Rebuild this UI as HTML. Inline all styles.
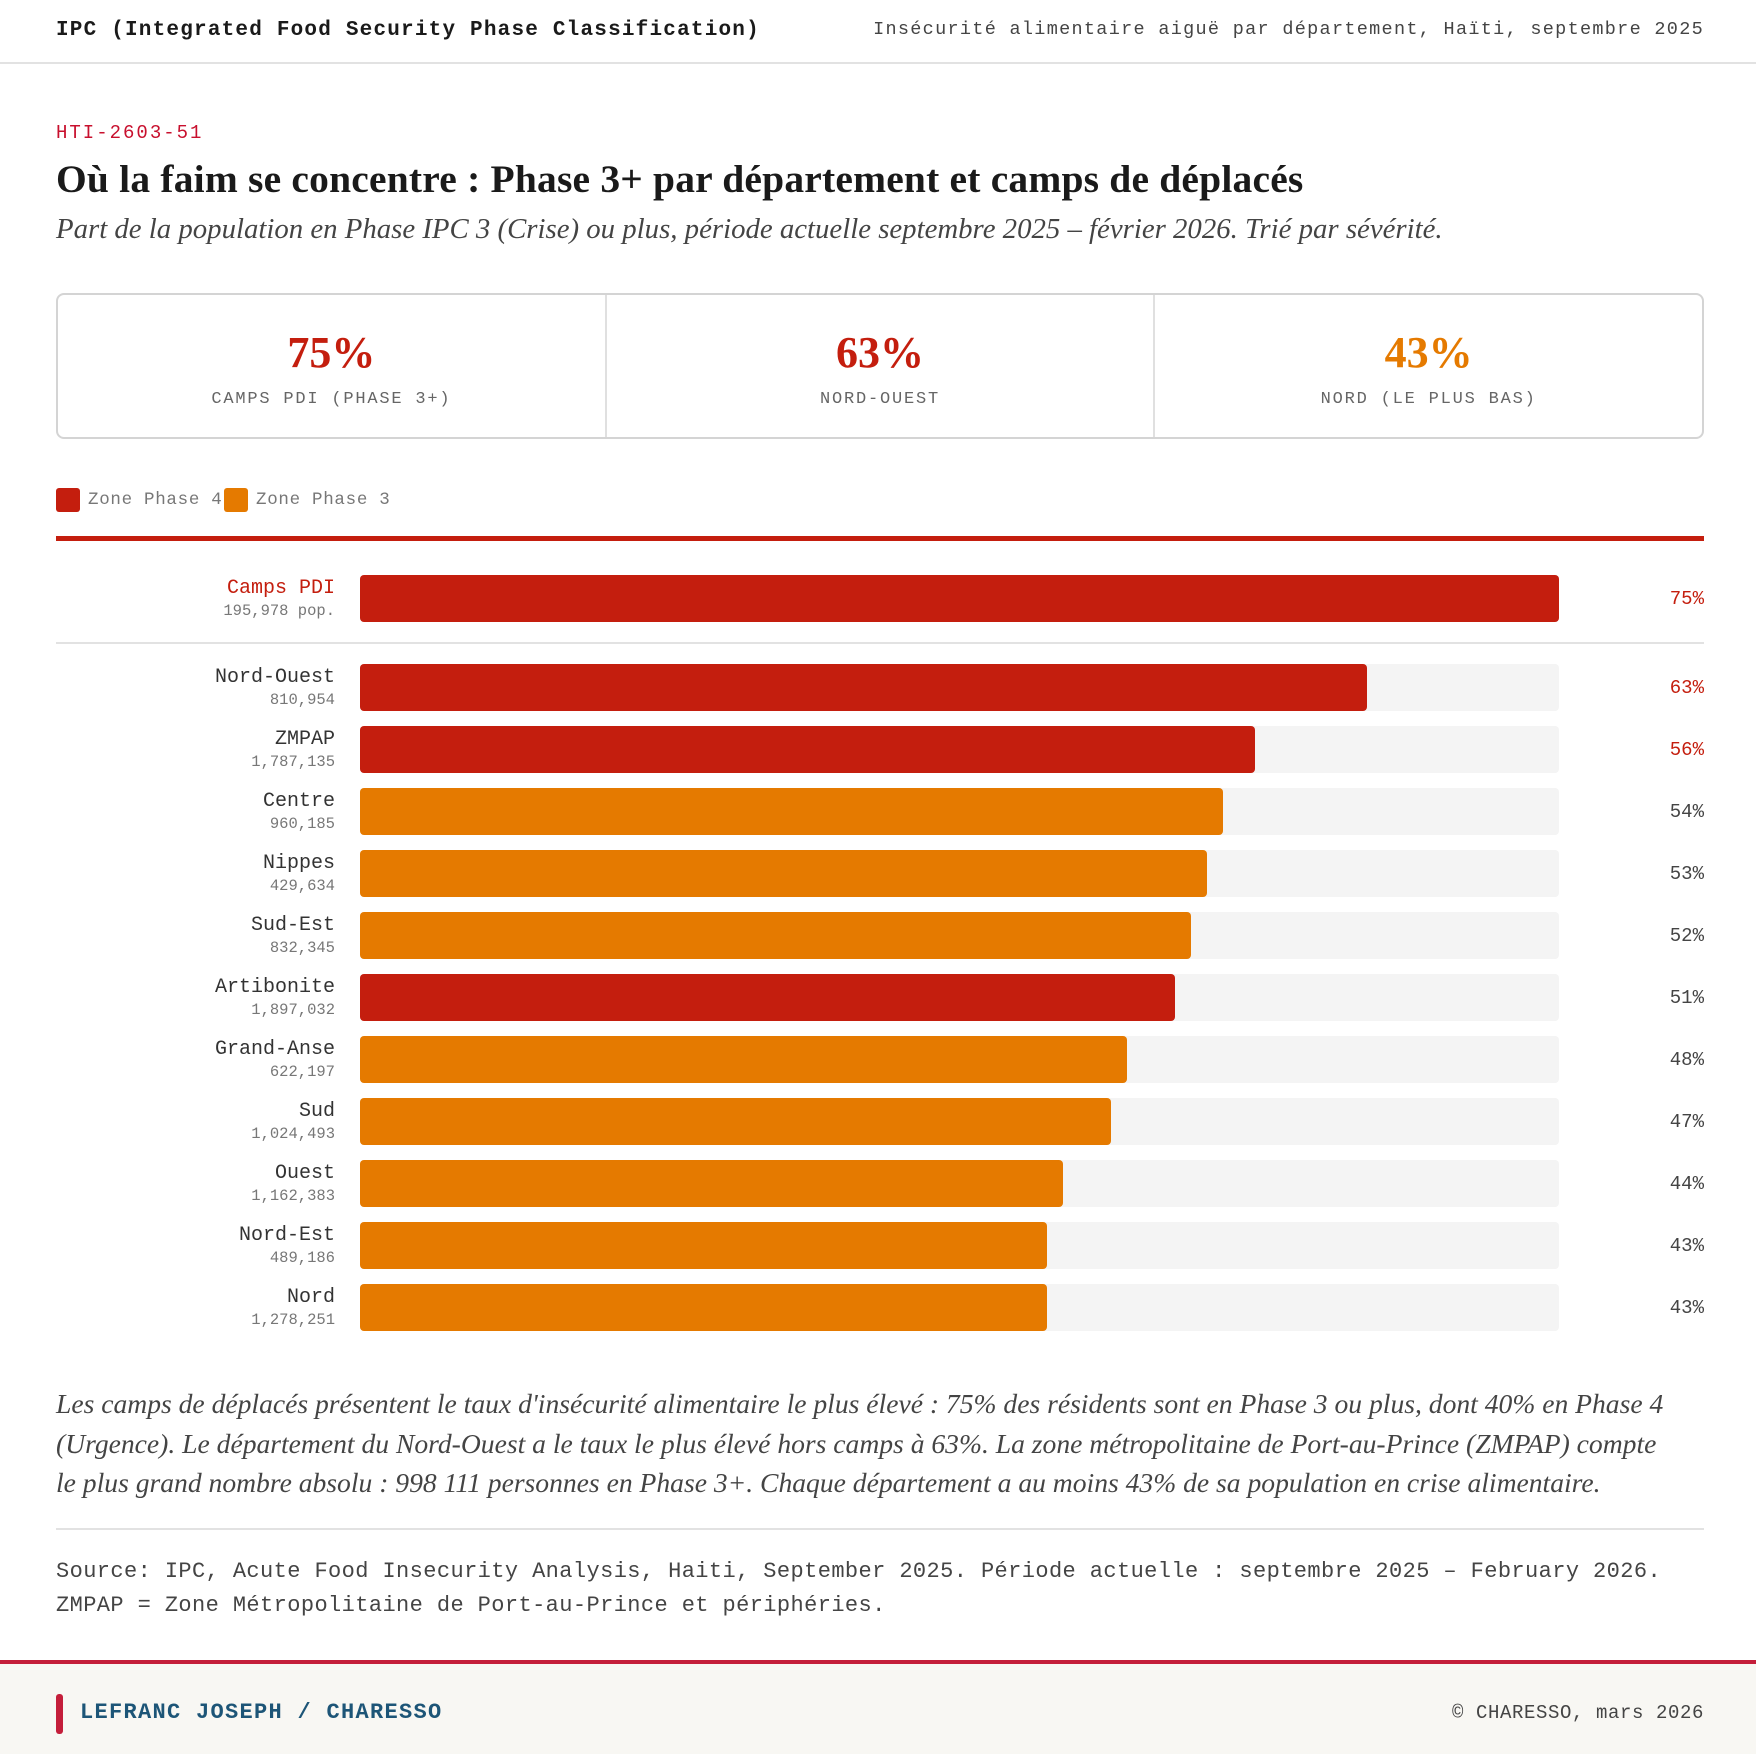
<!DOCTYPE html>
<html><head><meta charset="utf-8">
<style>
*{margin:0;padding:0;box-sizing:border-box}
body{width:1756px;height:1754px;background:#fff;position:relative;overflow:hidden;font-family:"Liberation Mono","DejaVu Sans Mono",monospace;color:#222}
.abs{position:absolute;white-space:nowrap}
.mono{font-family:"Liberation Mono","DejaVu Sans Mono",monospace}
.serif{font-family:"Liberation Serif","DejaVu Serif",serif}
</style></head><body>
<div class="abs mono" style="left:56px;top:19px;font-size:21px;font-weight:bold;letter-spacing:1.2px;color:#1a1a1a">IPC (Integrated Food Security Phase Classification)</div>
<div class="abs mono" style="right:52px;top:19px;font-size:18.5px;letter-spacing:1.3px;color:#444">Insécurité alimentaire aiguë par département, Haïti, septembre 2025</div>
<div class="abs" style="left:0;top:62px;width:1756px;height:2px;background:#e2e2e2"></div>

<div class="abs mono" style="left:56px;top:122px;font-size:19px;letter-spacing:2px;color:#c8102e">HTI-2603-51</div>
<div class="abs serif" style="left:56px;top:156px;font-size:39.5px;font-weight:bold;color:#1a1a1a;letter-spacing:0.2px">Où la faim se concentre : Phase 3+ par département et camps de déplacés</div>
<div class="abs serif" style="left:56px;top:213px;font-size:28.8px;font-style:italic;color:#444">Part de la population en Phase IPC 3 (Crise) ou plus, période actuelle septembre 2025 – février 2026. Trié par sévérité.</div>

<div class="abs" style="left:56px;top:293px;width:1648px;height:146px;border:2px solid #d4d4d4;border-radius:8px;display:flex">
  <div style="flex:1;border-right:2px solid #e0e0e0;text-align:center;padding-top:33px">
    <div class="serif" style="font-size:44px;font-weight:bold;color:#c41e0e;line-height:50px">75%</div>
    <div class="mono" style="font-size:17px;letter-spacing:1.8px;color:#666;margin-top:12px">CAMPS PDI (PHASE 3+)</div>
  </div>
  <div style="flex:1;border-right:2px solid #e0e0e0;text-align:center;padding-top:33px">
    <div class="serif" style="font-size:44px;font-weight:bold;color:#c41e0e;line-height:50px">63%</div>
    <div class="mono" style="font-size:17px;letter-spacing:1.8px;color:#666;margin-top:12px">NORD-OUEST</div>
  </div>
  <div style="flex:1;text-align:center;padding-top:33px">
    <div class="serif" style="font-size:44px;font-weight:bold;color:#e57a00;line-height:50px">43%</div>
    <div class="mono" style="font-size:17px;letter-spacing:1.8px;color:#666;margin-top:12px">NORD (LE PLUS BAS)</div>
  </div>
</div>

<div class="abs" style="left:56px;top:488px;display:flex;align-items:center">
  <span style="display:inline-block;width:24px;height:24px;background:#c41e0e;border-radius:3px"></span>
  <span class="mono" style="font-size:17.5px;letter-spacing:0.7px;color:#777;margin-left:8px">Zone Phase 4</span>
</div>
<div class="abs" style="left:224px;top:488px;display:flex;align-items:center">
  <span style="display:inline-block;width:24px;height:24px;background:#e57a00;border-radius:3px"></span>
  <span class="mono" style="font-size:17.5px;letter-spacing:0.7px;color:#777;margin-left:8px">Zone Phase 3</span>
</div>
<div class="abs" style="left:56px;top:536px;width:1648px;height:5px;background:#c41e0e"></div>

<div id="chart"></div>

<div class="abs serif" style="left:56px;top:1384px;width:1615px;white-space:normal;font-size:27.6px;font-style:italic;line-height:39.5px;color:#444">Les camps de déplacés présentent le taux d'insécurité alimentaire le plus élevé : 75% des résidents sont en Phase 3 ou plus, dont 40% en Phase 4 (Urgence). Le département du Nord-Ouest a le taux le plus élevé hors camps à 63%. La zone métropolitaine de Port-au-Prince (ZMPAP) compte le plus grand nombre absolu : 998 111 personnes en Phase 3+. Chaque département a au moins 43% de sa population en crise alimentaire.</div>
<div class="abs" style="left:56px;top:1528px;width:1648px;height:2px;background:#e2e2e2"></div>
<div class="abs mono" style="left:56px;top:1555px;font-size:22px;letter-spacing:0.4px;line-height:34px;color:#444">Source: IPC, Acute Food Insecurity Analysis, Haiti, September 2025. Période actuelle : septembre 2025 – February 2026.<br>ZMPAP = Zone Métropolitaine de Port-au-Prince et périphéries.</div>

<div class="abs" style="left:0;top:1660px;width:1756px;height:94px;background:#f8f7f3;border-top:4px solid #c41e3a">
  <div class="abs" style="left:56px;top:30px;width:7px;height:40px;background:#c41e3a;border-radius:3px"></div>
  <div class="abs mono" style="left:80px;top:36px;font-size:22px;font-weight:bold;letter-spacing:1.3px;color:#1d5577">LEFRANC JOSEPH / CHARESSO</div>
  <div class="abs mono" style="right:52px;top:38px;font-size:19px;letter-spacing:0.6px;color:#444">© CHARESSO, mars 2026</div>
</div>

<script>
const categories = ["Camps PDI","Nord-Ouest","ZMPAP","Centre","Nippes","Sud-Est","Artibonite","Grand-Anse","Sud","Ouest","Nord-Est","Nord"];
const populations = ["195,978 pop.","810,954","1,787,135","960,185","429,634","832,345","1,897,032","622,197","1,024,493","1,162,383","489,186","1,278,251"];
const values = [75,63,56,54,53,52,51,48,47,44,43,43];
const phases = [4,4,4,3,3,3,4,3,3,3,3,3];
const maxValue = 75;

const chart = document.getElementById('chart');
const x0 = 360, trackW = 1199;
function xScale(v){ return v / maxValue * trackW; }
function yRow(i){ return i === 0 ? 575 : 664 + (i - 1) * 61.95; }
const barH = 47;
for (let i = 0; i < categories.length; i++) {
  const y = yRow(i);
  const red = phases[i] === 4;
  const col = red ? '#c41e0e' : '#e57a00';
  const track = document.createElement('div');
  track.className = 'abs';
  
  
  track.style.cssText = `left:${x0}px;top:${y}px;width:${trackW}px;height:${barH}px;background:#f4f4f4;border-radius:4px`;
  chart.appendChild(track);
  const bar = document.createElement('div');
  bar.className = 'abs';
  
  
  bar.style.cssText = `left:${x0}px;top:${y}px;width:${xScale(values[i])}px;height:${barH}px;background:${col};border-radius:4px`;
  chart.appendChild(bar);
  const name = document.createElement('div');
  name.className = 'abs mono';
  
  
  name.style.cssText = `right:${1756-335}px;top:${y+2}px;font-size:20px;letter-spacing:0px;text-align:right;color:${i===0?'#c41e0e':'#333'};`;
  name.textContent = categories[i];
  chart.appendChild(name);
  const pop = document.createElement('div');
  pop.className = 'abs mono';
  
  
  pop.style.cssText = `right:${1756-335}px;top:${y+27}px;font-size:15.5px;letter-spacing:0px;color:#777;`;
  pop.textContent = populations[i];
  chart.appendChild(pop);
  const val = document.createElement('div');
  val.className = 'abs mono';
  
  
  val.style.cssText = `right:52px;top:${y+13}px;font-size:19px;letter-spacing:0px;color:${(i<3)?'#c41e0e':'#444'}`;
  val.textContent = values[i] + '%';
  chart.appendChild(val);
}
const sep = document.createElement('div');
sep.className = 'abs';


sep.style.cssText = 'left:56px;top:642px;width:1648px;height:2px;background:#e2e2e2';
chart.appendChild(sep);
</script>
</body></html>
